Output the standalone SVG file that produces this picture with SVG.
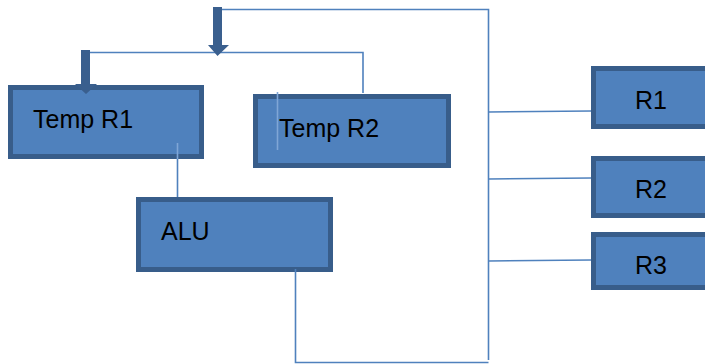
<svg xmlns="http://www.w3.org/2000/svg" width="705" height="364" viewBox="0 0 705 364">
<style>
.box{fill:#4F81BD;stroke:#385D8A;stroke-width:5}
.lbl{font-family:"Liberation Sans",Arial,sans-serif;font-size:25px;fill:#000}
.ln{fill:none;stroke:#4F81BD;stroke-width:1.6}
.lt{stroke:#7FA6D6}
.arr{fill:#3A5F8E}
</style>
<rect width="705" height="364" fill="#fff"/>
<g id="tempR1">
<rect class="box" x="10.5" y="87.5" width="191" height="69"/>
<text class="lbl" x="33" y="128">Temp R1</text>
</g>
<g id="tempR2">
<rect class="box" x="255.5" y="96.5" width="193" height="69"/>
<text class="lbl" x="279" y="137">Temp R2</text>
</g>
<g id="alu">
<rect class="box" x="138.5" y="199.5" width="192" height="70"/>
<text class="lbl" x="161" y="240">ALU</text>
</g>
<g id="r1">
<rect class="box" x="593.5" y="68.5" width="130" height="58"/>
<text class="lbl" x="635" y="109">R1</text>
</g>
<g id="r2">
<rect class="box" x="593.5" y="158.5" width="130" height="57"/>
<text class="lbl" x="635" y="198">R2</text>
</g>
<g id="r3">
<rect class="box" x="593.5" y="234.5" width="130" height="53"/>
<text class="lbl" x="635" y="274">R3</text>
</g>
<g id="connectors">
<polyline class="ln" points="215,9.5 488.5,9.5 488.5,360"/>
<polyline class="ln" points="86,52.5 363,52.5 363,93"/>
<line class="ln lt" x1="277.5" y1="92" x2="277.5" y2="150"/>
<line class="ln lt" x1="177.5" y1="143" x2="177.5" y2="159"/>
<line class="ln" x1="177.5" y1="159" x2="177.5" y2="197"/>
<polyline class="ln" points="295.5,269 295.5,362.5 488.5,362.5"/>
<line class="ln" x1="488.5" y1="112" x2="591" y2="111"/>
<line class="ln" x1="488.5" y1="179" x2="591" y2="178"/>
<line class="ln" x1="488.5" y1="261" x2="591" y2="260"/>
</g>
<g id="arrows">
<polygon class="arr" points="213,7 222,7 222,45 229,45 217.5,56 208,45 213,45"/>
<polygon class="arr" points="81,50 90,50 90,84 97,84 86,94 75,84 81,84"/>
</g>
</svg>
